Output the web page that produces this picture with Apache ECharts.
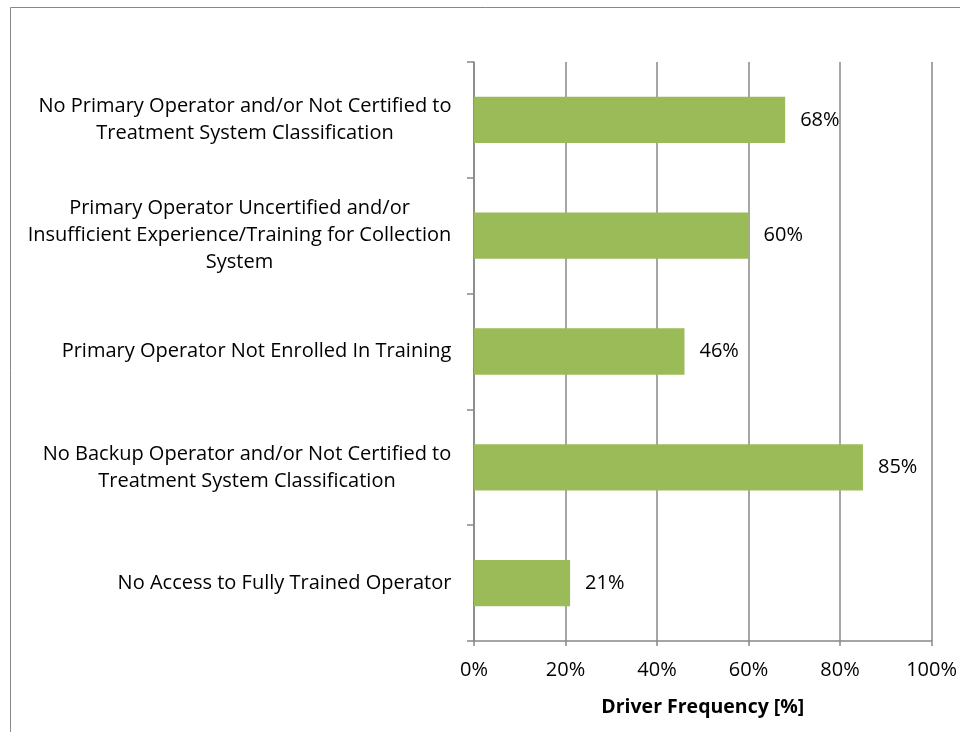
<!DOCTYPE html>
<html><head><meta charset="utf-8">
<script src="https://cdn.jsdelivr.net/npm/echarts@6/dist/echarts.min.js"></script>
<style>html,body{margin:0;padding:0;background:#fff}#c{width:960px;height:732px}</style>
</head><body><div id="c"></div>
<script>
var categories = [
  "No Primary Operator and/or Not Certified to\nTreatment System Classification",
  "Primary Operator Uncertified and/or\nInsufficient Experience/Training for Collection\nSystem",
  "Primary Operator Not Enrolled In Training",
  "No Backup Operator and/or Not Certified to\nTreatment System Classification",
  "No Access to Fully Trained Operator"
];
var values = [68, 60, 46, 85, 21];
var xTicks = [0, 20, 40, 60, 80, 100];
var axisName = "Driver Frequency [%]";

var font = "Open Sans";
var labelSize = 20;
var ctx = document.createElement('canvas').getContext('2d');
ctx.font = labelSize + 'px "' + font + '"';
var rich = {};
categories.forEach(function (c, i) {
  var w = Math.max.apply(null, c.split('\n').map(function (l) { return ctx.measureText(l).width; }));
  rich['c' + i] = { width: Math.ceil(w) + 1, align: 'center', fontFamily: font, fontSize: labelSize, lineHeight: 27, color: '#000' };
});

var chart = echarts.init(document.getElementById('c'));
chart.setOption({
  animation: false,
  graphic: [{
    type: 'rect', silent: true,
    shape: { x: 10.5, y: 7.5, width: 1200, height: 1200 },
    style: { fill: 'none', stroke: '#888888', lineWidth: 1 }
  }],
  grid: { left: 474, right: 28, top: 62, bottom: 91, containLabel: false },
  xAxis: {
    type: 'value', min: xTicks[0], max: xTicks[xTicks.length - 1], interval: 20,
    name: axisName, nameLocation: 'middle', nameGap: 56,
    nameTextStyle: { fontFamily: font, fontSize: 19.5, fontWeight: 'bold', color: '#000' },
    axisLine: { show: true, lineStyle: { color: '#888888', width: 1.5 } },
    axisTick: { show: true, length: 5, lineStyle: { color: '#888888', width: 1.5 } },
    axisLabel: { formatter: '{value}%', fontFamily: font, fontSize: labelSize, color: '#000', margin: 19 },
    splitLine: { show: true, lineStyle: { color: '#888888', width: 1.5 } }
  },
  yAxis: {
    type: 'category', data: categories, inverse: true,
    axisLine: { show: true, lineStyle: { color: '#888888', width: 1.5 } },
    axisTick: { show: true, length: 7, lineStyle: { color: '#888888', width: 1.5 } },
    axisLabel: {
      margin: 22, align: 'right', rich: rich,
      formatter: function (v, i) {
        return v.split('\n').map(function (l) { return '{c' + i + '|' + l + '}'; }).join('\n');
      }
    },
    splitLine: { show: false }
  },
  series: [{
    type: 'bar', data: values, barWidth: '40%',
    itemStyle: { color: '#9bbb59' },
    label: { show: true, position: 'right', distance: 15, formatter: '{c}%', fontFamily: font, fontSize: labelSize, color: '#000' }
  }]
});
</script></body></html>
